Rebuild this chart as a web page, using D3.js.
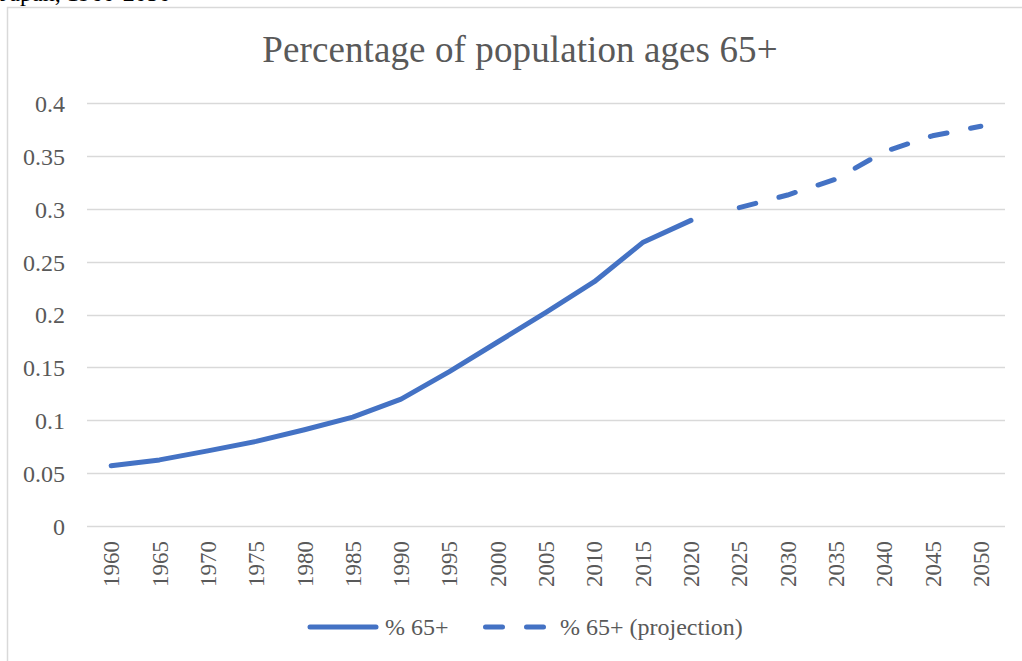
<!DOCTYPE html>
<html>
<head>
<meta charset="utf-8">
<script src="https://cdn.jsdelivr.net/npm/d3@7"></script>
<style>
  body { margin: 0; background: #fff; }
  svg text { font-family: "Liberation Serif", "Times New Roman", serif; }
</style>
</head>
<body>
<svg width="1022" height="661"></svg>
<script>
// data
var years = ['1960', '1965', '1970', '1975', '1980', '1985', '1990', '1995', '2000',
  '2005', '2010', '2015', '2020', '2025', '2030', '2035', '2040', '2045', '2050'];
var actualYears = ['1960', '1965', '1970', '1975', '1980', '1985', '1990', '1995', '2000',
  '2005', '2010', '2015', '2020'];
var actualValues = [0.057, 0.0625, 0.071, 0.080, 0.091, 0.103, 0.120, 0.146, 0.174,
  0.202, 0.231, 0.268, 0.289];
var projYears = ['2025', '2030', '2035', '2040', '2045', '2050'];
var projValues = [0.301, 0.313, 0.328, 0.354, 0.369, 0.378];
var yTicks = [0, 0.05, 0.1, 0.15, 0.2, 0.25, 0.3, 0.35, 0.4];

var svg = d3.select('svg');
var color = '#4472c4';
var textColor = '#595959';

// caption above the chart box, mostly cut off
svg.append('text')
  .attr('x', 0)
  .attr('y', 1)
  .attr('font-size', 24)
  .attr('fill', '#000')
  .text('Japan, 1960-2050');

// chart box
svg.append('rect')
  .attr('x', 7.5)
  .attr('y', 7.5)
  .attr('width', 1030)
  .attr('height', 680)
  .attr('fill', '#fff')
  .attr('stroke', '#d9d9d9')
  .attr('stroke-width', 1.5);

var x = d3.scalePoint().domain(years).range([87, 1005]).padding(0.5);
var y = d3.scaleLinear().domain([0, 0.4]).range([526, 103]);

svg.append('text')
  .attr('x', 520)
  .attr('y', 62)
  .attr('text-anchor', 'middle')
  .attr('font-size', 37)
  .attr('letter-spacing', 0.1)
  .attr('fill', textColor)
  .text('Percentage of population ages 65+');

// gridlines
svg.append('g')
  .selectAll('line')
  .data(yTicks)
  .enter()
  .append('line')
  .attr('x1', 87)
  .attr('x2', 1005)
  .attr('y1', function(d) { return Math.round(y(d)) + 0.5; })
  .attr('y2', function(d) { return Math.round(y(d)) + 0.5; })
  .attr('stroke', '#d9d9d9')
  .attr('stroke-width', 1.5);

// y axis labels
var yAxis = svg.append('g')
  .attr('transform', 'translate(87,0)')
  .call(d3.axisLeft(y).tickValues(yTicks).tickSize(0).tickPadding(22)
    .tickFormat(function(d) { return String(+d.toFixed(2)); }));
yAxis.select('.domain').remove();
yAxis.selectAll('text')
  .attr('font-size', 24)
  .attr('fill', textColor)
  .attr('font-family', '"Liberation Serif", serif')
  .attr('dy', '0.35em');

// x axis labels
var xAxis = svg.append('g')
  .attr('transform', 'translate(0,526)')
  .call(d3.axisBottom(x).tickSize(0).tickPadding(0));
xAxis.select('.domain').remove();
xAxis.selectAll('text')
  .attr('font-size', 23)
  .attr('fill', textColor)
  .attr('font-family', '"Liberation Serif", serif')
  .attr('text-anchor', 'end')
  .attr('dy', '0.33em')
  .attr('transform', 'translate(0,15) rotate(-90)')
  .attr('y', 0)
  .attr('x', 0);

var line = d3.line()
  .x(function(d) { return x(d[0]); })
  .y(function(d) { return y(d[1]); });

svg.append('path')
  .datum(d3.zip(actualYears, actualValues))
  .attr('d', line)
  .attr('fill', 'none')
  .attr('stroke', color)
  .attr('stroke-width', 5)
  .attr('stroke-linecap', 'round')
  .attr('stroke-linejoin', 'round');

svg.append('path')
  .datum(d3.zip(projYears, projValues))
  .attr('d', line)
  .attr('fill', 'none')
  .attr('stroke', color)
  .attr('stroke-width', 5)
  .attr('stroke-linecap', 'round')
  .attr('stroke-linejoin', 'round')
  .attr('stroke-dasharray', '17,24');

// legend
var legend = svg.append('g').attr('transform', 'translate(0,627)');
legend.append('line')
  .attr('x1', 310).attr('x2', 376)
  .attr('stroke', color).attr('stroke-width', 5).attr('stroke-linecap', 'round');
legend.append('text')
  .attr('x', 385).attr('dy', '0.33em')
  .attr('font-size', 24).attr('fill', textColor)
  .text('% 65+');
legend.append('line')
  .attr('x1', 485.5).attr('x2', 545)
  .attr('stroke', color).attr('stroke-width', 5).attr('stroke-linecap', 'round')
  .attr('stroke-dasharray', '17,24');
legend.append('text')
  .attr('x', 560).attr('dy', '0.33em')
  .attr('font-size', 24).attr('fill', textColor)
  .text('% 65+ (projection)');
</script>
</body>
</html>
